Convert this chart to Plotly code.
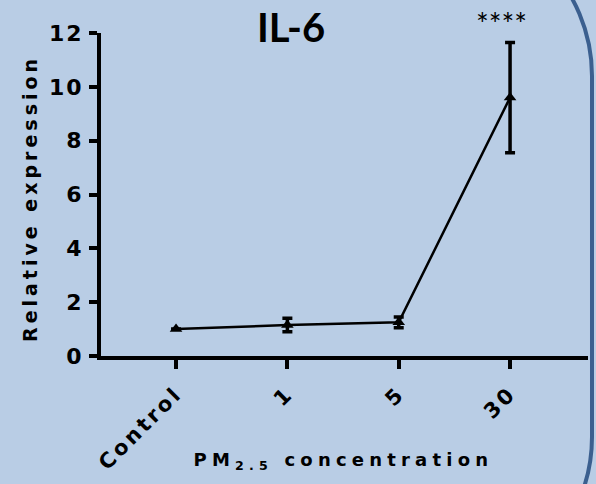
import plotly.graph_objects as go

# IL-6 relative expression vs PM2.5 concentration
categories = ["Control", "1", "5", "30"]
means = [1.0, 1.15, 1.25, 9.6]
errors = [0.0, 0.25, 0.2, 2.05]
y_ticks = [0, 2, 4, 6, 8, 10, 12]

BG = "#b9cde5"
BORDER = "#3b5f8f"
W, H = 596, 484
L, R, T, B = 101, 8, 33, 128
PW, PH = W - L - R, H - T - B


def px(x):
    return (x - L) / PW


def py(y):
    return (H - B - y) / PH


def rounded_path(x0, y0, x1, y1, r):
    k = 0.5523 * r
    pts = [
        ("M", [(x0 + r, y0)]),
        ("L", [(x1 - r, y0)]),
        ("C", [(x1 - r + k, y0), (x1, y0 + r - k), (x1, y0 + r)]),
        ("L", [(x1, y1 - r)]),
        ("C", [(x1, y1 - r + k), (x1 - r + k, y1), (x1 - r, y1)]),
        ("L", [(x0 + r, y1)]),
        ("C", [(x0 + r - k, y1), (x0, y1 - r + k), (x0, y1 - r)]),
        ("L", [(x0, y0 + r)]),
        ("C", [(x0, y0 + r - k), (x0 + r - k, y0), (x0 + r, y0)]),
    ]
    s = ""
    for cmd, p in pts:
        s += cmd + " ".join(f"{px(a):.5f},{py(b):.5f}" for a, b in p) + " "
    return s + "Z"


fig = go.Figure()
fig.add_trace(go.Scatter(
    x=categories, y=means,
    mode="lines+markers",
    line=dict(color="black", width=2.5),
    marker=dict(symbol="triangle-up", size=11, color="black"),
    error_y=dict(type="data", array=errors, visible=True,
                 color="black", thickness=3.5, width=5),
    cliponaxis=False,
    showlegend=False,
))

SANS = "DejaVu Sans"
ytick_font = dict(family=SANS, size=22, color="black", weight="bold")
xtick_font = dict(family=SANS, size=21, color="black", weight="bold")
label_font = dict(family=SANS, size=18, color="black", weight="bold")

fig.update_layout(
    width=W, height=H, autosize=False,
    margin=dict(l=L, r=R, t=T, b=B, pad=0),
    paper_bgcolor=BG, plot_bgcolor=BG,
    xaxis=dict(
        type="category", range=[-0.674, 3.70], automargin=False,
        showgrid=False, zeroline=False,
        showline=True, linecolor="black", linewidth=4,
        ticks="outside", ticklen=9, tickwidth=4, tickcolor="black",
        tickangle=-45, tickfont=xtick_font,
        ticklabelstandoff=4,
    ),
    yaxis=dict(
        range=[0, 12], tickvals=y_ticks, automargin=False,
        showgrid=False, zeroline=False,
        showline=True, linecolor="black", linewidth=4,
        ticks="outside", ticklen=8, tickwidth=4, tickcolor="black",
        tickfont=ytick_font, ticklabelstandoff=1,
    ),
    annotations=[
        dict(text="<b>IL-6</b>", x=px(291), y=py(27), xref="paper", yref="paper",
             xanchor="center", yanchor="middle", showarrow=False,
             font=dict(family="Lato", size=40, color="black")),
        dict(text="****", x=px(501), y=py(23), xref="paper", yref="paper",
             xanchor="center", yanchor="middle", showarrow=False,
             font=dict(family="Lato", size=30, color="black")),
        dict(text="PM<sub>2.5</sub> concentration", x=px(343), y=py(461),
             xref="paper", yref="paper", xanchor="center", yanchor="middle",
             showarrow=False, font=label_font),
        dict(text="Relative expression", x=px(30), y=py(199), textangle=-90,
             xref="paper", yref="paper", xanchor="center", yanchor="middle",
             showarrow=False, font=dict(label_font, size=19)),
    ],
    shapes=[
        dict(type="path", xref="paper", yref="paper",
             path=rounded_path(-100, -84, 592, 597, 160),
             line=dict(color=BORDER, width=4), layer="below"),
    ],
)

# widen the letter spacing of axis labels and tick labels
post = """
var gd = document.getElementById('{plot_id}');
gd.querySelectorAll('g.annotation[data-index="2"] text')
  .forEach(function(t){ t.setAttribute('letter-spacing', '5.2px'); });
gd.querySelectorAll('g.annotation[data-index="3"] text')
  .forEach(function(t){ t.setAttribute('letter-spacing', '4px'); });
gd.querySelectorAll('.xtick text').forEach(function(t){ t.setAttribute('letter-spacing', '3px'); });
gd.querySelectorAll('.ytick text').forEach(function(t){ t.setAttribute('letter-spacing', '2px'); });
"""

fig.write_html("out.html", post_script=post)
